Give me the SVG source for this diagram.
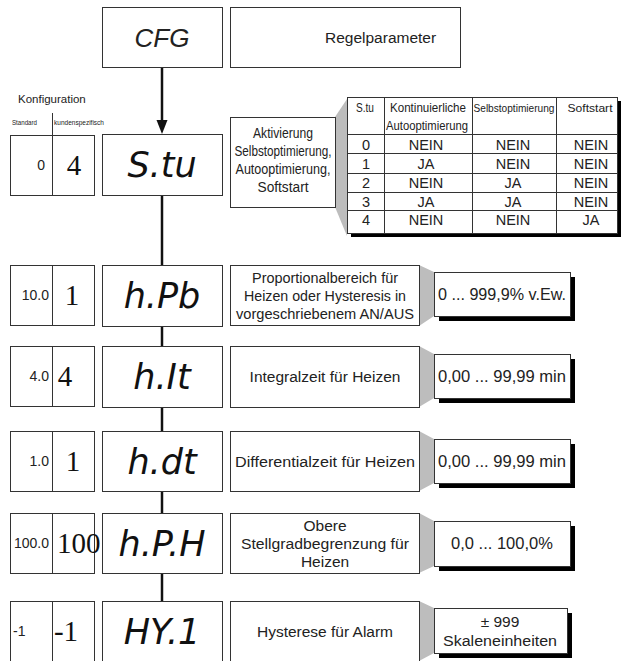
<svg xmlns="http://www.w3.org/2000/svg" width="621" height="661" viewBox="0 0 621 661">
<style>
.box{fill:#fff;stroke:#333;stroke-width:1}
.shadow{fill:#000}
.wedge{fill:#bdbdbd}
.t{font-family:"Liberation Sans",Arial,sans-serif;fill:#222}
.c{text-anchor:middle}
.e{text-anchor:end}
.seg{font-family:"DejaVu Sans",sans-serif;font-style:oblique;font-size:35px;fill:#111;text-anchor:middle}
.num{font-family:"Liberation Serif","Times New Roman",serif;font-size:29px;fill:#111;text-anchor:middle}
.std{font-size:14px}
.desc{font-size:15.5px}
.val{font-size:16.5px}
.th{font-size:13px}
.td{font-size:14.5px}
.conn{stroke:#111;stroke-width:2.5;fill:none}
.grid{stroke:#333;stroke-width:1;fill:none}
</style>

<g id="connectors">
<line class="conn" x1="162" y1="67" x2="162" y2="121"/>
<path d="M156.5,120 L167.5,120 L162,134 Z" fill="#111"/>
<line class="conn" x1="162" y1="195" x2="162" y2="265"/>
<line class="conn" x1="162" y1="326" x2="162" y2="346"/>
<line class="conn" x1="162" y1="407" x2="162" y2="431"/>
<line class="conn" x1="162" y1="491" x2="162" y2="513"/>
<line class="conn" x1="162" y1="573" x2="162" y2="601"/>
</g>

<g id="cfg">
<rect class="box" x="102.5" y="7.5" width="120" height="60"/>
<text class="t c" x="162" y="47" font-size="26" font-style="italic">CFG</text>
</g>
<g id="regelparameter">
<rect class="box" x="230.5" y="7.5" width="230" height="60"/>
<text class="t" x="325" y="43" font-size="15.5">Regelparameter</text>
</g>

<g id="konfiguration">
<text class="t" x="18" y="103" font-size="11.5">Konfiguration</text>
<text class="t" x="12" y="125" font-size="7" textLength="25" lengthAdjust="spacingAndGlyphs">Standard</text>
<text class="t" x="54" y="125" font-size="7" textLength="50" lengthAdjust="spacingAndGlyphs">kundenspezifisch</text>
<line class="grid" x1="52.5" y1="113" x2="52.5" y2="135"/>
</g>

<!-- Row 1: S.tu -->
<g id="cfg-stu">
<rect class="box" x="10.5" y="135.5" width="84" height="60"/>
<line class="grid" x1="52.5" y1="135.5" x2="52.5" y2="195.5"/>
<text class="t std e" x="45" y="170">0</text>
<text class="num" x="74" y="175">4</text>
</g>
<g id="disp-stu">
<rect class="box" x="102.5" y="134.5" width="120" height="61"/>
<text class="seg" x="162" y="177">S.tu</text>
</g>
<g id="desc-stu">
<polygon class="wedge" points="335,117 347,99 347,236 335,207"/>
<rect class="box" x="230.5" y="117.5" width="105" height="90"/>
<text class="t c" x="283" y="138" font-size="14" textLength="60" lengthAdjust="spacingAndGlyphs">Aktivierung</text>
<text class="t c" x="283" y="156" font-size="14" textLength="97" lengthAdjust="spacingAndGlyphs">Selbstoptimierung,</text>
<text class="t c" x="283" y="174" font-size="14" textLength="95" lengthAdjust="spacingAndGlyphs">Autooptimierung,</text>
<text class="t c" x="283" y="192" font-size="14" textLength="51" lengthAdjust="spacingAndGlyphs">Softstart</text>
</g>
<g id="table-stu">
<rect class="shadow" x="351" y="101" width="270" height="136"/>
<rect class="box" x="347.5" y="97.5" width="270" height="136"/>
<line class="grid" x1="384.5" y1="97.5" x2="384.5" y2="233.5"/>
<line class="grid" x1="472.5" y1="97.5" x2="472.5" y2="233.5"/>
<line class="grid" x1="556.5" y1="97.5" x2="556.5" y2="233.5"/>
<line class="grid" x1="347.5" y1="134.5" x2="617.5" y2="134.5"/>
<line class="grid" x1="347.5" y1="153.5" x2="617.5" y2="153.5"/>
<line class="grid" x1="347.5" y1="173.5" x2="617.5" y2="173.5"/>
<line class="grid" x1="347.5" y1="192.5" x2="617.5" y2="192.5"/>
<line class="grid" x1="347.5" y1="210.5" x2="617.5" y2="210.5"/>
<text class="t th c" x="365" y="112" textLength="18" lengthAdjust="spacingAndGlyphs">S.tu</text>
<text class="t th c" x="428" y="112" textLength="76" lengthAdjust="spacingAndGlyphs">Kontinuierliche</text>
<text class="t th c" x="427" y="130" textLength="82" lengthAdjust="spacingAndGlyphs">Autooptimierung</text>
<text class="t c" x="514" y="112" font-size="11" textLength="81" lengthAdjust="spacingAndGlyphs">Selbstoptimierung</text>
<text class="t c" x="590" y="112" font-size="11" textLength="45" lengthAdjust="spacingAndGlyphs">Softstart</text>
<text class="t td c" x="366" y="150">0</text>
<text class="t td c" x="426" y="150">NEIN</text>
<text class="t td c" x="513" y="150">NEIN</text>
<text class="t td c" x="591" y="150">NEIN</text>
<text class="t td c" x="366" y="169">1</text>
<text class="t td c" x="426" y="169">JA</text>
<text class="t td c" x="513" y="169">NEIN</text>
<text class="t td c" x="591" y="169">NEIN</text>
<text class="t td c" x="366" y="188">2</text>
<text class="t td c" x="426" y="188">NEIN</text>
<text class="t td c" x="513" y="188">JA</text>
<text class="t td c" x="591" y="188">NEIN</text>
<text class="t td c" x="366" y="207">3</text>
<text class="t td c" x="426" y="207">JA</text>
<text class="t td c" x="513" y="207">JA</text>
<text class="t td c" x="591" y="207">NEIN</text>
<text class="t td c" x="366" y="225">4</text>
<text class="t td c" x="426" y="225">NEIN</text>
<text class="t td c" x="513" y="225">NEIN</text>
<text class="t td c" x="591" y="225">JA</text>
</g>

<!-- Row 2: h.Pb -->
<g id="cfg-hpb">
<rect class="box" x="10.5" y="265.5" width="84" height="60"/>
<line class="grid" x1="52.5" y1="265.5" x2="52.5" y2="325.5"/>
<text class="t std e" x="49" y="300">10.0</text>
<text class="num" x="72" y="305">1</text>
</g>
<g id="disp-hpb">
<rect class="box" x="102.5" y="265.5" width="120" height="61"/>
<text class="seg" x="162" y="308">h.Pb</text>
</g>
<g id="desc-hpb">
<polygon class="wedge" points="419,265 434,272 434,316 419,326"/>
<rect class="box" x="230.5" y="265.5" width="189" height="60"/>
<text class="t desc c" x="325" y="283" textLength="146" lengthAdjust="spacingAndGlyphs">Proportionalbereich für</text>
<text class="t desc c" x="325" y="301" textLength="162" lengthAdjust="spacingAndGlyphs">Heizen oder Hysteresis in</text>
<text class="t desc c" x="325" y="319" textLength="178" lengthAdjust="spacingAndGlyphs">vorgeschriebenem AN/AUS</text>
</g>
<g id="val-hpb">
<rect class="shadow" x="439" y="277" width="136" height="44"/>
<rect class="box" x="434.5" y="272.5" width="136" height="44"/>
<text class="t val" x="438" y="300" textLength="128" lengthAdjust="spacingAndGlyphs">0 ... 999,9% v.Ew.</text>
</g>

<!-- Row 3: h.It -->
<g id="cfg-hit">
<rect class="box" x="10.5" y="346.5" width="84" height="60"/>
<line class="grid" x1="52.5" y1="346.5" x2="52.5" y2="406.5"/>
<text class="t std e" x="49" y="381">4.0</text>
<text class="num" x="65" y="386">4</text>
</g>
<g id="disp-hit">
<rect class="box" x="102.5" y="346.5" width="120" height="61"/>
<text class="seg" x="162" y="389">h.It</text>
</g>
<g id="desc-hit">
<polygon class="wedge" points="419,346 434,354 434,398 419,407"/>
<rect class="box" x="230.5" y="346.5" width="189" height="61"/>
<text class="t desc c" x="325" y="382">Integralzeit für Heizen</text>
</g>
<g id="val-hit">
<rect class="shadow" x="439" y="359" width="136" height="44"/>
<rect class="box" x="434.5" y="354.5" width="136" height="44"/>
<text class="t val c" x="502" y="382" textLength="128" lengthAdjust="spacingAndGlyphs">0,00 ... 99,99 min</text>
</g>

<!-- Row 4: h.dt -->
<g id="cfg-hdt">
<rect class="box" x="10.5" y="431.5" width="84" height="60"/>
<line class="grid" x1="52.5" y1="431.5" x2="52.5" y2="491.5"/>
<text class="t std e" x="49" y="466">1.0</text>
<text class="num" x="73" y="471">1</text>
</g>
<g id="disp-hdt">
<rect class="box" x="102.5" y="431.5" width="120" height="60"/>
<text class="seg" x="162" y="474">h.dt</text>
</g>
<g id="desc-hdt">
<polygon class="wedge" points="419,431 434,439 434,483 419,491"/>
<rect class="box" x="230.5" y="431.5" width="189" height="60"/>
<text class="t desc c" x="325" y="467" textLength="180" lengthAdjust="spacingAndGlyphs">Differentialzeit für Heizen</text>
</g>
<g id="val-hdt">
<rect class="shadow" x="439" y="444" width="136" height="44"/>
<rect class="box" x="434.5" y="439.5" width="136" height="44"/>
<text class="t val c" x="502" y="467" textLength="128" lengthAdjust="spacingAndGlyphs">0,00 ... 99,99 min</text>
</g>

<!-- Row 5: h.P.H -->
<g id="cfg-hph">
<rect class="box" x="10.5" y="513.5" width="84" height="60"/>
<line class="grid" x1="52.5" y1="513.5" x2="52.5" y2="573.5"/>
<text class="t std e" x="49" y="548">100.0</text>
<text class="num" x="57" y="553" style="text-anchor:start">100</text>
</g>
<g id="disp-hph">
<rect class="box" x="102.5" y="513.5" width="120" height="60"/>
<text class="seg" x="162" y="556">h.P.H</text>
</g>
<g id="desc-hph">
<polygon class="wedge" points="419,513 434,521 434,566 419,573"/>
<rect class="box" x="230.5" y="513.5" width="189" height="60"/>
<text class="t desc c" x="325" y="531">Obere</text>
<text class="t desc c" x="325" y="549" textLength="168" lengthAdjust="spacingAndGlyphs">Stellgradbegrenzung für</text>
<text class="t desc c" x="325" y="567">Heizen</text>
</g>
<g id="val-hph">
<rect class="shadow" x="439" y="526" width="136" height="45"/>
<rect class="box" x="434.5" y="521.5" width="136" height="45"/>
<text class="t val c" x="502" y="549">0,0 ... 100,0%</text>
</g>

<!-- Row 6: HY.1 -->
<g id="cfg-hy1">
<rect class="box" x="10.5" y="601.5" width="84" height="62"/>
<line class="grid" x1="52.5" y1="601.5" x2="52.5" y2="663"/>
<text class="t std" x="13" y="636">-1</text>
<text class="num" x="66" y="641">-1</text>
</g>
<g id="disp-hy1">
<rect class="box" x="102.5" y="601.5" width="120" height="62"/>
<text class="seg" x="162" y="644">HY.1</text>
</g>
<g id="desc-hy1">
<polygon class="wedge" points="419,601 434,608 434,653 419,661"/>
<rect class="box" x="230.5" y="601.5" width="189" height="62"/>
<text class="t desc c" x="325" y="637">Hysterese für Alarm</text>
</g>
<g id="val-hy1">
<rect class="shadow" x="439" y="613" width="133" height="45"/>
<rect class="box" x="434.5" y="608.5" width="133" height="45"/>
<text class="t c" x="500" y="627" font-size="15.5">± 999</text>
<text class="t c" x="500" y="646" font-size="15.5" textLength="114" lengthAdjust="spacingAndGlyphs">Skaleneinheiten</text>
</g>
</svg>
